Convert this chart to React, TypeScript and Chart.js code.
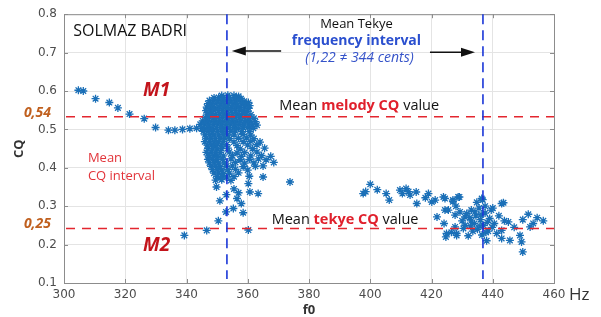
import React, { useEffect, useRef } from "react";
import { Chart, registerables } from "chart.js";

Chart.register(...registerables);

// ---- axis ranges / ticks ----
const xMin = 300;
const xMax = 460;
const xStep = 20;
const yMin = 0.1;
const yMax = 0.8;
const yStep = 0.1;

// ---- reference lines ----
const f0Lines = [353.2, 436.8]; // mean Tekye frequency interval (Hz)
const cqLines = [0.533, 0.242]; // mean melody / tekye CQ
const cqLineLabels = ["0,54", "0,25"];

// ---- scatter data (f0 Hz, CQ) ----
const tailPoints: [number, number][] = [
  [304.7, 0.602], [306.3, 0.6], [310.3, 0.58], [314.8, 0.57], [317.6, 0.556],
  [321.4, 0.54], [326.2, 0.528], [329.9, 0.505], [334.1, 0.498], [336.2, 0.498],
  [338.7, 0.5], [341.1, 0.502], [343.3, 0.503], [345.0, 0.502],
];

const corePoints: [number, number][] = [
  [351.5, 0.588], [353.5, 0.589], [355.5, 0.588], [357.0, 0.586],
  [349.0, 0.582], [350.5, 0.583], [352.0, 0.582], [354.0, 0.583], [356.0, 0.582], [357.8, 0.58],
  [347.5, 0.575], [348.8, 0.576], [350.2, 0.575], [351.6, 0.574], [353.0, 0.576], [354.5, 0.575], [356.0, 0.574], [357.4, 0.576], [358.8, 0.573], [360.2, 0.57],
  [347.0, 0.567], [348.3, 0.566], [349.6, 0.568], [351.0, 0.567], [352.4, 0.566], [353.8, 0.567], [355.2, 0.568], [356.6, 0.566], [358.0, 0.567], [359.4, 0.565], [360.6, 0.562],
  [346.6, 0.558], [347.9, 0.559], [349.2, 0.557], [350.6, 0.558], [352.0, 0.559], [353.4, 0.557], [354.8, 0.558], [356.2, 0.559], [357.6, 0.557], [359.0, 0.558], [360.3, 0.555],
  [346.4, 0.549], [347.7, 0.548], [349.0, 0.55], [350.4, 0.549], [351.8, 0.548], [353.2, 0.55], [354.6, 0.549], [356.0, 0.548], [357.4, 0.55], [358.6, 0.549], [360.0, 0.547],
  [346.8, 0.54], [348.1, 0.541], [349.5, 0.539], [350.9, 0.54], [352.3, 0.541], [353.7, 0.539], [355.1, 0.54], [356.5, 0.541], [357.9, 0.539], [359.3, 0.54], [361.0, 0.538],
  [346.2, 0.531], [347.5, 0.532], [348.9, 0.53], [350.3, 0.531], [351.7, 0.532], [353.1, 0.53], [354.5, 0.531], [355.9, 0.532], [357.3, 0.53], [358.8, 0.531], [360.2, 0.53], [362.0, 0.529],
  [345.3, 0.522], [346.6, 0.523], [348.0, 0.521], [349.4, 0.522], [350.8, 0.523], [352.2, 0.521], [353.6, 0.522], [355.0, 0.523], [356.4, 0.521], [357.8, 0.522], [359.3, 0.523], [360.8, 0.521], [362.5, 0.52],
  [344.5, 0.513], [345.9, 0.514], [347.3, 0.512], [348.7, 0.513], [350.1, 0.514], [351.5, 0.512], [352.9, 0.513], [354.3, 0.514], [355.7, 0.512], [357.1, 0.513], [358.6, 0.514], [360.2, 0.512], [361.5, 0.513], [363.0, 0.511],
  [345.6, 0.504], [347.0, 0.505], [348.4, 0.503], [349.8, 0.504], [351.2, 0.505], [352.6, 0.503], [354.0, 0.504], [355.5, 0.505], [357.0, 0.503], [358.5, 0.504], [360.0, 0.505], [361.8, 0.503],
];

const lowerPoints: [number, number][] = [
  [345.5, 0.495], [347.0, 0.496], [348.5, 0.494], [350.0, 0.495], [351.5, 0.496], [353.0, 0.494], [354.5, 0.495], [356.0, 0.496], [358.0, 0.494], [360.5, 0.495],
  [346.0, 0.486], [347.5, 0.487], [349.0, 0.485], [350.5, 0.486], [352.0, 0.487], [353.5, 0.485], [355.5, 0.486], [358.5, 0.487], [361.0, 0.485],
  [346.5, 0.477], [348.0, 0.478], [349.5, 0.476], [351.0, 0.477], [352.5, 0.478], [354.0, 0.476], [357.0, 0.477], [359.5, 0.478], [362.0, 0.476],
  [346.0, 0.468], [347.5, 0.469], [349.0, 0.467], [350.5, 0.468], [352.0, 0.469], [355.5, 0.467], [358.5, 0.468], [361.0, 0.469], [364.0, 0.467],
  [346.8, 0.459], [348.3, 0.46], [349.8, 0.458], [351.3, 0.459], [353.0, 0.46], [356.5, 0.458], [360.0, 0.459], [363.0, 0.46],
  [347.0, 0.45], [348.5, 0.451], [350.0, 0.449], [351.5, 0.45], [353.5, 0.451], [357.5, 0.449], [361.5, 0.45], [365.5, 0.451],
  [346.5, 0.44], [348.0, 0.441], [349.5, 0.439], [351.0, 0.44], [354.0, 0.441], [356.5, 0.439], [359.0, 0.44], [363.0, 0.441],
  [347.2, 0.431], [348.7, 0.432], [350.2, 0.43], [352.0, 0.431], [355.0, 0.432], [358.0, 0.43], [361.0, 0.431], [364.5, 0.432], [367.5, 0.43],
  [347.0, 0.422], [348.5, 0.423], [350.0, 0.421], [351.8, 0.422], [354.5, 0.423], [357.5, 0.421], [360.5, 0.422], [363.5, 0.423], [366.0, 0.421],
  [347.5, 0.413], [349.0, 0.414], [350.5, 0.412], [352.5, 0.413], [356.0, 0.414], [359.0, 0.412], [362.0, 0.413], [368.5, 0.414],
  [348.0, 0.404], [349.5, 0.405], [351.0, 0.403], [353.0, 0.404], [355.0, 0.405], [358.5, 0.403], [362.5, 0.404], [365.0, 0.405],
  [348.5, 0.395], [350.0, 0.396], [351.5, 0.394], [353.5, 0.395], [356.0, 0.396], [360.0, 0.394],
  [349.0, 0.386], [350.5, 0.387], [352.0, 0.385], [354.0, 0.386], [357.0, 0.387],
  [350.0, 0.377], [351.5, 0.378], [353.0, 0.376], [355.5, 0.377], [360.5, 0.378], [365.0, 0.376],
  [349.5, 0.368], [351.5, 0.369], [354.5, 0.367],
  [349.8, 0.35], [350.9, 0.314], [352.9, 0.285], [355.3, 0.294], [358.5, 0.283], [357.9, 0.307],
  [360.2, 0.359], [360.7, 0.337], [363.4, 0.333], [355.5, 0.345], [357.0, 0.335], [353.0, 0.33],
  [356.5, 0.32], [373.8, 0.363], [360.2, 0.238], [350.4, 0.262], [346.6, 0.237], [339.3, 0.224],
];

const tekyePoints: [number, number][] = [
  [397.7, 0.333], [398.5, 0.338], [400.0, 0.357], [402.3, 0.343], [405.2, 0.333], [406.2, 0.316],
  [409.7, 0.342], [410.5, 0.333], [411.7, 0.346], [412.5, 0.338], [413.0, 0.329], [415.0, 0.337],
  [415.2, 0.307], [418.0, 0.322], [419.0, 0.333], [420.1, 0.311], [421.2, 0.316], [423.9, 0.324],
  [424.4, 0.32], [424.4, 0.29], [425.5, 0.29], [427.0, 0.316], [427.0, 0.312], [428.7, 0.324],
  [429.1, 0.324], [427.7, 0.277], [428.0, 0.3], [429.3, 0.285], [430.9, 0.272], [421.8, 0.272],
  [424.1, 0.255], [424.7, 0.22], [424.9, 0.229], [426.5, 0.232], [427.7, 0.246], [428.2, 0.229],
  [428.2, 0.224], [430.4, 0.242], [431.5, 0.281], [430.0, 0.262], [431.0, 0.25], [432.0, 0.223],
  [432.5, 0.27], [433.0, 0.29], [433.5, 0.235], [434.0, 0.255], [434.5, 0.275], [434.8, 0.31],
  [435.0, 0.24], [435.5, 0.295], [436.0, 0.265], [436.4, 0.32], [436.5, 0.225], [436.7, 0.317],
  [437.0, 0.25], [437.5, 0.282], [437.5, 0.3], [438.0, 0.21], [438.5, 0.235], [439.0, 0.268],
  [439.5, 0.29], [440.0, 0.295], [440.5, 0.255], [441.3, 0.229], [442.0, 0.275], [442.9, 0.307],
  [443.5, 0.309], [442.9, 0.237], [442.9, 0.216], [443.8, 0.262], [445.1, 0.259], [445.6, 0.211],
  [447.0, 0.245], [448.9, 0.224], [449.4, 0.207], [449.8, 0.181], [449.8, 0.265], [451.6, 0.279],
  [452.2, 0.246], [453.2, 0.255], [454.5, 0.27], [456.5, 0.262], [433.0, 0.262], [435.8, 0.248],
  [438.2, 0.258], [432.8, 0.248], [436.2, 0.278], [434.2, 0.285], [437.8, 0.232], [439.8, 0.245],
];

const allPoints = [...tailPoints, ...corePoints, ...lowerPoints, ...tekyePoints];

const FONT = "'Open Sans', 'DejaVu Sans', sans-serif";

function drawSegments(ctx: CanvasRenderingContext2D, segs: { t: string; c: string; f: string }[], x: number, y: number, align: "left" | "right" | "center") {
  let total = 0;
  segs.forEach((s) => {
    ctx.font = s.f;
    total += ctx.measureText(s.t).width;
  });
  let cx = align === "left" ? x : align === "right" ? x - total : x - total / 2;
  ctx.textAlign = "left";
  ctx.textBaseline = "middle";
  segs.forEach((s) => {
    ctx.font = s.f;
    ctx.fillStyle = s.c;
    ctx.fillText(s.t, cx, y);
    cx += ctx.measureText(s.t).width;
  });
}

function arrow(ctx: CanvasRenderingContext2D, x1: number, y1: number, x2: number, y: number) {
  const dir = Math.sign(x2 - x1);
  ctx.strokeStyle = "#111";
  ctx.fillStyle = "#111";
  ctx.lineWidth = 1.6;
  ctx.setLineDash([]);
  ctx.beginPath();
  ctx.moveTo(x1, y1);
  ctx.lineTo(x2 - dir * 10, y);
  ctx.stroke();
  ctx.beginPath();
  ctx.moveTo(x2, y);
  ctx.lineTo(x2 - dir * 14, y - 4.5);
  ctx.lineTo(x2 - dir * 14, y + 4.5);
  ctx.closePath();
  ctx.fill();
}

const annotPlugin = {
  id: "annot",
  beforeDraw(chart: any) {
    const { ctx, width, height } = chart;
    ctx.save();
    ctx.fillStyle = "#ffffff";
    ctx.fillRect(0, 0, width, height);
    ctx.restore();
  },
  afterDatasetsDraw(chart: any) {
    const { ctx, chartArea: a, scales } = chart;
    const x = scales.x;
    const y = scales.y;
    ctx.save();

    // box + inner tick marks
    ctx.strokeStyle = "#8c8c8c";
    ctx.lineWidth = 1;
    ctx.setLineDash([]);
    ctx.strokeRect(a.left + 0.5, a.top + 0.5, a.right - a.left, a.bottom - a.top);
    ctx.beginPath();
    for (let v = xMin; v <= xMax; v += xStep) {
      const px = Math.round(x.getPixelForValue(v)) + 0.5;
      ctx.moveTo(px, a.bottom);
      ctx.lineTo(px, a.bottom - 4);
      ctx.moveTo(px, a.top);
      ctx.lineTo(px, a.top + 4);
    }
    for (let v = yMin; v <= yMax + 1e-9; v += yStep) {
      const py = Math.round(y.getPixelForValue(v)) + 0.5;
      ctx.moveTo(a.left, py);
      ctx.lineTo(a.left + 4, py);
      ctx.moveTo(a.right, py);
      ctx.lineTo(a.right - 4, py);
    }
    ctx.stroke();

    // red dashed CQ lines
    ctx.strokeStyle = "#e3262f";
    ctx.lineWidth = 1.6;
    ctx.setLineDash([9, 7]);
    cqLines.forEach((v) => {
      const py = y.getPixelForValue(v);
      ctx.beginPath();
      ctx.moveTo(a.left + 2, py);
      ctx.lineTo(a.right, py);
      ctx.stroke();
    });

    // blue dashed f0 lines
    ctx.strokeStyle = "#1a36d8";
    ctx.lineWidth = 1.6;
    ctx.setLineDash([10, 6]);
    f0Lines.forEach((v) => {
      const px = x.getPixelForValue(v);
      ctx.beginPath();
      ctx.moveTo(px, a.top);
      ctx.lineTo(px, a.bottom - 4);
      ctx.stroke();
    });
    ctx.setLineDash([]);

    // CQ line labels at left
    cqLines.forEach((v, i) => {
      drawSegments(ctx, [{ t: cqLineLabels[i], c: "#c0601f", f: `italic bold 14px ${FONT}` }], a.left - 13, y.getPixelForValue(v) - 4, "right");
    });

    // Title
    drawSegments(ctx, [{ t: "SOLMAZ BADRI", c: "#111", f: `16px ${FONT}` }], x.getPixelForValue(303), y.getPixelForValue(0.756), "left");

    // M1 / M2
    drawSegments(ctx, [{ t: "M1", c: "#c3141b", f: `italic bold 19px ${FONT}` }], x.getPixelForValue(325.8), y.getPixelForValue(0.602), "left");
    drawSegments(ctx, [{ t: "M2", c: "#c3141b", f: `italic bold 19px ${FONT}` }], x.getPixelForValue(325.8), y.getPixelForValue(0.198), "left");

    // Mean CQ interval
    drawSegments(ctx, [{ t: "Mean", c: "#e2343a", f: `13px ${FONT}` }], x.getPixelForValue(307.8), y.getPixelForValue(0.425), "left");
    drawSegments(ctx, [{ t: "CQ interval", c: "#e2343a", f: `13px ${FONT}` }], x.getPixelForValue(307.8), y.getPixelForValue(0.378), "left");

    // Mean melody CQ value
    drawSegments(
      ctx,
      [
        { t: "Mean ", c: "#111", f: `14.5px ${FONT}` },
        { t: "melody CQ", c: "#e0202c", f: `bold 14.5px ${FONT}` },
        { t: " value", c: "#111", f: `14.5px ${FONT}` },
      ],
      x.getPixelForValue(370.3),
      y.getPixelForValue(0.56),
      "left"
    );
    // Mean tekye CQ value
    drawSegments(
      ctx,
      [
        { t: "Mean ", c: "#111", f: `14.5px ${FONT}` },
        { t: "tekye CQ", c: "#e0202c", f: `bold 14.5px ${FONT}` },
        { t: " value", c: "#111", f: `14.5px ${FONT}` },
      ],
      x.getPixelForValue(367.8),
      y.getPixelForValue(0.264),
      "left"
    );

    // Mean Tekye frequency interval
    const cxp = x.getPixelForValue(395.5);
    drawSegments(ctx, [{ t: "Mean Tekye", c: "#111", f: `13px ${FONT}` }], cxp, y.getPixelForValue(0.774), "center");
    drawSegments(ctx, [{ t: "frequency interval", c: "#2a4fcf", f: `bold 14px ${FONT}` }], cxp, y.getPixelForValue(0.729), "center");
    drawSegments(ctx, [{ t: "(1,22 \u2260 344 cents)", c: "#3553c9", f: `italic 14px ${FONT}` }], cxp + 3, y.getPixelForValue(0.686), "center");

    // arrows
    arrow(ctx, x.getPixelForValue(370.9), y.getPixelForValue(0.704), x.getPixelForValue(354.8), y.getPixelForValue(0.704));
    arrow(ctx, x.getPixelForValue(419.5), y.getPixelForValue(0.701), x.getPixelForValue(434.2), y.getPixelForValue(0.701));

    // axis titles
    drawSegments(ctx, [{ t: "Hz", c: "#333", f: `17px ${FONT}` }], a.right + 15, a.bottom + 12, "left");
    drawSegments(ctx, [{ t: "f0", c: "#333", f: `bold 13px ${FONT}` }], (a.left + a.right) / 2, a.bottom + 27, "center");
    ctx.save();
    ctx.translate(19, (a.top + a.bottom) / 2);
    ctx.rotate(-Math.PI / 2);
    drawSegments(ctx, [{ t: "CQ", c: "#333", f: `bold 13px ${FONT}` }], 0, 0, "center");
    ctx.restore();

    ctx.restore();
  },
};

export default function App() {
  const ref = useRef<HTMLCanvasElement>(null);
  useEffect(() => {
    if (!ref.current) return;
    const chart = new Chart(ref.current, {
      type: "scatter",
      data: {
        datasets: [
          {
            data: allPoints.map(([f, c]) => ({ x: f, y: c })),
            pointStyle: "star",
            pointRadius: 4,
            pointBorderWidth: 1.3,
            borderColor: "#1a6fb7",
            backgroundColor: "#1a6fb7",
            showLine: false,
          },
        ],
      },
      options: {
        responsive: false,
        animation: false,
        devicePixelRatio: 1,
        layout: { padding: { left: 0, right: 47, top: 14, bottom: 0 } },
        plugins: { legend: { display: false }, tooltip: { enabled: false } },
        scales: {
          x: {
            type: "linear",
            min: xMin,
            max: xMax,
            afterFit: (s: any) => {
              s.height = 34;
            },
            ticks: {
              stepSize: xStep,
              padding: 5,
              color: "#4d4d4d",
              font: { family: "'DejaVu Sans', sans-serif", size: 12 },
              maxRotation: 0,
            },
            grid: { color: "#e4e4e4", drawTicks: false },
            border: { display: false },
          },
          y: {
            type: "linear",
            min: yMin,
            max: yMax,
            afterFit: (s: any) => {
              s.width = 64;
            },
            ticks: {
              stepSize: yStep,
              padding: 7,
              color: "#4d4d4d",
              font: { family: "'DejaVu Sans', sans-serif", size: 12 },
              callback: (v: any) => Number(v).toFixed(1),
            },
            grid: { color: "#e4e4e4", drawTicks: false },
            border: { display: false },
          },
        },
      },
      plugins: [annotPlugin],
    });
    return () => chart.destroy();
  }, []);
  return (
    <div style={{ position: "absolute", left: 0, top: 0, width: 601, height: 317, background: "#fff" }}>
      <canvas ref={ref} width={601} height={317} />
    </div>
  );
}
